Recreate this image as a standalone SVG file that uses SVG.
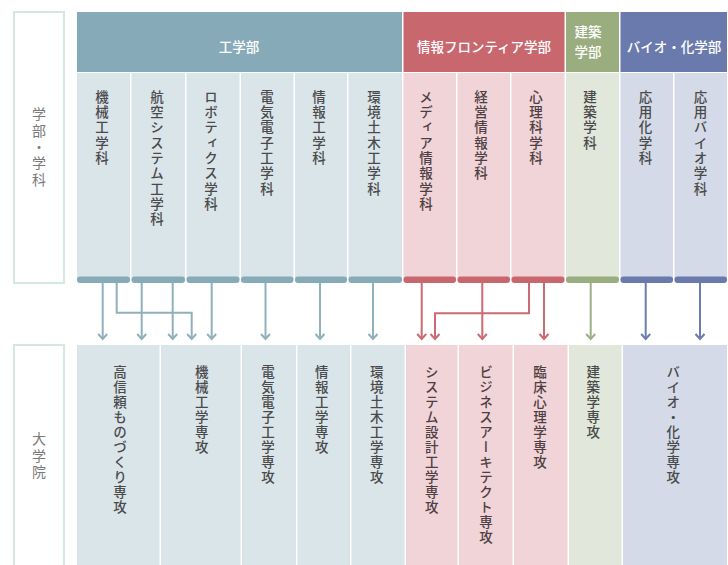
<svg xmlns="http://www.w3.org/2000/svg" width="728" height="565" viewBox="0 0 728 565">
<style>
text{font-family:"Noto Sans CJK JP","Noto Sans",sans-serif;}
.hd{fill:#fff;font-size:13.5px;text-anchor:middle;font-weight:500;}
.vt{writing-mode:vertical-rl;font-size:13.5px;fill:#4a4a4a;letter-spacing:1.8px;font-weight:500;}
.gv{writing-mode:vertical-rl;font-size:13.5px;fill:#4a4a4a;letter-spacing:1.5px;font-weight:500;}
.pt{fill:#4d3f43}
.lb{writing-mode:vertical-rl;font-size:14px;fill:#7a7a7a;letter-spacing:2.3px;}
.lbox{fill:#fff;stroke:#d6e6e1;stroke-width:2;}
.tl{fill:#dae5ea}.tb{fill:#86aab8}
.pl{fill:#f0d4d8}.pb{fill:#c9676f}
.gl{fill:#e1e7da}.gb{fill:#99ad7f}
.bl{fill:#d4dae7}.bb{fill:#6b7aad}
.ct{fill:none;stroke:#8fb0bd;stroke-width:2}
.cp{fill:none;stroke:#cc6a72;stroke-width:2}
.cg{fill:none;stroke:#9cb086;stroke-width:2}
.cb{fill:none;stroke:#6a7cb0;stroke-width:2}
</style>
<defs>
<marker id="at" markerUnits="userSpaceOnUse" markerWidth="12" markerHeight="12" orient="auto" overflow="visible"><path d="M-5,-4.5 L0,0 L-5,4.5" fill="none" stroke="#8fb0bd" stroke-width="2"/></marker>
<marker id="ap" markerUnits="userSpaceOnUse" markerWidth="12" markerHeight="12" orient="auto" overflow="visible"><path d="M-5,-4.5 L0,0 L-5,4.5" fill="none" stroke="#cc6a72" stroke-width="2"/></marker>
<marker id="ag" markerUnits="userSpaceOnUse" markerWidth="12" markerHeight="12" orient="auto" overflow="visible"><path d="M-5,-4.5 L0,0 L-5,4.5" fill="none" stroke="#9cb086" stroke-width="2"/></marker>
<marker id="ab" markerUnits="userSpaceOnUse" markerWidth="12" markerHeight="12" orient="auto" overflow="visible"><path d="M-5,-4.5 L0,0 L-5,4.5" fill="none" stroke="#6a7cb0" stroke-width="2"/></marker>
</defs>
<rect width="728" height="565" fill="#fff"/>

<g id="label-faculty"><rect class="lbox" x="14" y="12" width="50" height="271"/><text class="lb" x="39" y="107">学部・学科</text></g>
<g id="label-graduate"><rect class="lbox" x="14" y="345" width="50" height="230"/><text class="lb" x="39" y="432">大学院</text></g>

<g id="fac-eng"><rect class="tb" x="77" y="12" width="325" height="60"/><text class="hd" x="239" y="52">工学部</text></g>
<g id="fac-info"><rect class="pb" x="403.5" y="12" width="161" height="60"/><text class="hd" x="484" y="52">情報フロンティア学部</text></g>
<g id="fac-arch"><rect class="gb" x="566" y="12" width="53" height="60"/><text class="hd" x="588" y="37">建築</text><text class="hd" x="588" y="57">学部</text></g>
<g id="fac-bio"><rect class="bb" x="620.5" y="12" width="106.5" height="60"/><text class="hd" x="674" y="52">バイオ・化学部</text></g>

<g id="dept-0"><rect class="tl" x="77" y="73" width="53" height="207"/><rect class="tb" x="77" y="276.5" width="53" height="6.5" rx="3"/><text class="vt" x="102" y="90">機械工学科</text></g>
<g id="dept-1"><rect class="tl" x="131.5" y="73" width="53.5" height="207"/><rect class="tb" x="131.5" y="276.5" width="53.5" height="6.5" rx="3"/><text class="vt" x="157" y="90">航空システム工学科</text></g>
<g id="dept-2"><rect class="tl" x="186.5" y="73" width="53" height="207"/><rect class="tb" x="186.5" y="276.5" width="53" height="6.5" rx="3"/><text class="vt" x="211" y="90">ロボティクス学科</text></g>
<g id="dept-3"><rect class="tl" x="241" y="73" width="52.5" height="207"/><rect class="tb" x="241" y="276.5" width="52.5" height="6.5" rx="3"/><text class="vt" x="267" y="90">電気電子工学科</text></g>
<g id="dept-4"><rect class="tl" x="295" y="73" width="52" height="207"/><rect class="tb" x="295" y="276.5" width="52" height="6.5" rx="3"/><text class="vt" x="319" y="90">情報工学科</text></g>
<g id="dept-5"><rect class="tl" x="348.5" y="73" width="53.5" height="207"/><rect class="tb" x="348.5" y="276.5" width="53.5" height="6.5" rx="3"/><text class="vt" x="374" y="90">環境土木工学科</text></g>
<g id="dept-6"><rect class="pl" x="403.5" y="73" width="52.5" height="207"/><rect class="pb" x="403.5" y="276.5" width="52.5" height="6.5" rx="3"/><text class="vt pt" x="426" y="90">メディア情報学科</text></g>
<g id="dept-7"><rect class="pl" x="457.5" y="73" width="52.5" height="207"/><rect class="pb" x="457.5" y="276.5" width="52.5" height="6.5" rx="3"/><text class="vt pt" x="481" y="90">経営情報学科</text></g>
<g id="dept-8"><rect class="pl" x="511.5" y="73" width="53" height="207"/><rect class="pb" x="511.5" y="276.5" width="53" height="6.5" rx="3"/><text class="vt pt" x="536" y="90">心理科学科</text></g>
<g id="dept-9"><rect class="gl" x="566" y="73" width="53" height="207"/><rect class="gb" x="566" y="276.5" width="53" height="6.5" rx="3"/><text class="vt" x="590" y="90">建築学科</text></g>
<g id="dept-10"><rect class="bl" x="620.5" y="73" width="52.5" height="207"/><rect class="bb" x="620.5" y="276.5" width="52.5" height="6.5" rx="3"/><text class="vt" x="645.5" y="90">応用化学科</text></g>
<g id="dept-11"><rect class="bl" x="674.5" y="73" width="52.5" height="207"/><rect class="bb" x="674.5" y="276.5" width="52.5" height="6.5" rx="3"/><text class="vt" x="700.5" y="90">応用バイオ学科</text></g>

<g id="connectors">
<path class="ct" marker-end="url(#at)" d="M102.7,283 V339"/>
<path class="ct" marker-end="url(#at)" d="M116.7,283 V312.7 H191.7 V339"/>
<path class="ct" marker-end="url(#at)" d="M141.7,283 V339"/>
<path class="ct" marker-end="url(#at)" d="M172.7,283 V339"/>
<path class="ct" marker-end="url(#at)" d="M211.7,283 V339"/>
<path class="ct" marker-end="url(#at)" d="M265.5,283 V339"/>
<path class="ct" marker-end="url(#at)" d="M320,283 V339"/>
<path class="ct" marker-end="url(#at)" d="M373,283 V339"/>
<path class="cp" marker-end="url(#ap)" d="M421.7,283 V339"/>
<path class="cp" marker-end="url(#ap)" d="M529,283 V313.3 H435 V339"/>
<path class="cp" marker-end="url(#ap)" d="M482.3,283 V339"/>
<path class="cp" marker-end="url(#ap)" d="M544,283 V339"/>
<path class="cg" marker-end="url(#ag)" d="M590.7,283 V339"/>
<path class="cb" marker-end="url(#ab)" d="M645.7,283 V339"/>
<path class="cb" marker-end="url(#ab)" d="M700,283 V339"/>
</g>

<g id="grad-0"><rect class="tl" x="77" y="345" width="82.5" height="220"/><text class="gv" x="120" y="365">高信頼ものづくり専攻</text></g>
<g id="grad-1"><rect class="tl" x="161" y="345" width="79.5" height="220"/><text class="gv" x="201.7" y="365">機械工学専攻</text></g>
<g id="grad-2"><rect class="tl" x="242" y="345" width="54" height="220"/><text class="gv" x="268" y="365">電気電子工学専攻</text></g>
<g id="grad-3"><rect class="tl" x="297.5" y="345" width="52.5" height="220"/><text class="gv" x="321.7" y="365">情報工学専攻</text></g>
<g id="grad-4"><rect class="tl" x="351.5" y="345" width="53" height="220"/><text class="gv" x="376.7" y="365">環境土木工学専攻</text></g>
<g id="grad-5"><rect class="pl" x="406" y="345" width="51.5" height="220"/><text class="gv pt" x="431.7" y="365">システム設計工学専攻</text></g>
<g id="grad-6"><rect class="pl" x="459" y="345" width="53.5" height="220"/><text class="gv pt" x="486" y="365">ビジネスアーキテクト専攻</text></g>
<g id="grad-7"><rect class="pl" x="514" y="345" width="53.5" height="220"/><text class="gv pt" x="540" y="365">臨床心理学専攻</text></g>
<g id="grad-8"><rect class="gl" x="569" y="345" width="52.5" height="220"/><text class="gv" x="593.3" y="365">建築学専攻</text></g>
<g id="grad-9"><rect class="bl" x="623" y="345" width="104" height="220"/><text class="gv" x="673.3" y="365">バイオ・化学専攻</text></g>
</svg>
